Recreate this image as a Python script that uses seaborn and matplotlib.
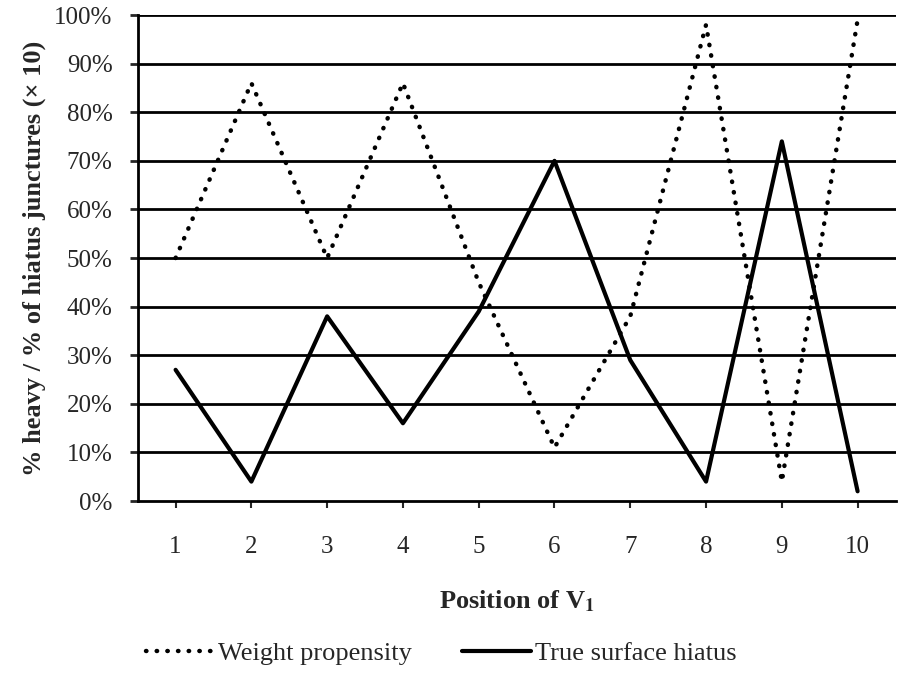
import matplotlib
matplotlib.use('Agg')
import pandas as pd
import matplotlib.pyplot as plt
import seaborn as sns
from matplotlib.ticker import PercentFormatter

positions = [1, 2, 3, 4, 5, 6, 7, 8, 9, 10]
weight_propensity = [50, 86, 50, 86, 45, 11, 38, 98, 4, 99]
true_surface_hiatus = [27, 4, 38, 16, 39, 70, 29, 4, 74, 2]

sns.set_style('white')
plt.rcParams['font.family'] = ['Liberation Serif', 'DejaVu Serif']
plt.rcParams['mathtext.fontset'] = 'stix'

df = pd.DataFrame({'Position': positions,
                   'Weight propensity': weight_propensity,
                   'True surface hiatus': true_surface_hiatus})

fig = plt.figure(figsize=(9, 6.84), dpi=100)
ax = fig.add_axes([0.153, 0.2675, 0.842, 0.7105])

# horizontal gridlines drawn as thick black lines
ax.set_yticks(range(0, 101, 10))
for y in range(10, 101, 10):
    ax.axhline(y, color='black', lw=2, zorder=1)

sns.lineplot(data=df, x='Position', y='Weight propensity', ax=ax, color='black',
             lw=3.2, label='Weight propensity', zorder=3)
ax.lines[-1].set_linestyle((0, (0.1, 2.3)))
ax.lines[-1].set_dash_capstyle('round')
sns.lineplot(data=df, x='Position', y='True surface hiatus', ax=ax, color='black',
             lw=3, label='True surface hiatus', zorder=3)

ax.set_xlim(0.5, 10.5)
ax.set_ylim(0, 100)
ax.set_xticks(positions)
ax.yaxis.set_major_formatter(PercentFormatter(decimals=0))

for side in ['top', 'right']:
    ax.spines[side].set_visible(False)
for side in ['left', 'bottom']:
    ax.spines[side].set_color('black')
    ax.spines[side].set_linewidth(2)

ax.tick_params(axis='y', direction='out', length=6, width=2, pad=12, labelsize=18, left=True)
ax.tick_params(axis='x', direction='out', length=5, width=1.5, pad=20, labelsize=18, bottom=True)

ax.set_xlabel(r'Position of V$_{\mathbf{1}}$', fontsize=19, fontweight='bold', labelpad=22)
ax.set_ylabel('% heavy / % of hiatus junctures (× 10)', fontsize=19, fontweight='bold', labelpad=6)

handles, labels = ax.get_legend_handles_labels()
ax.get_legend().remove()
fig.legend(handles, labels, loc='center', bbox_to_anchor=(0.49, 0.045), ncol=2,
           frameon=False, fontsize=19, handlelength=2.6, handletextpad=0.15,
           columnspacing=1.9)

fig.savefig('out.png', dpi=100)
